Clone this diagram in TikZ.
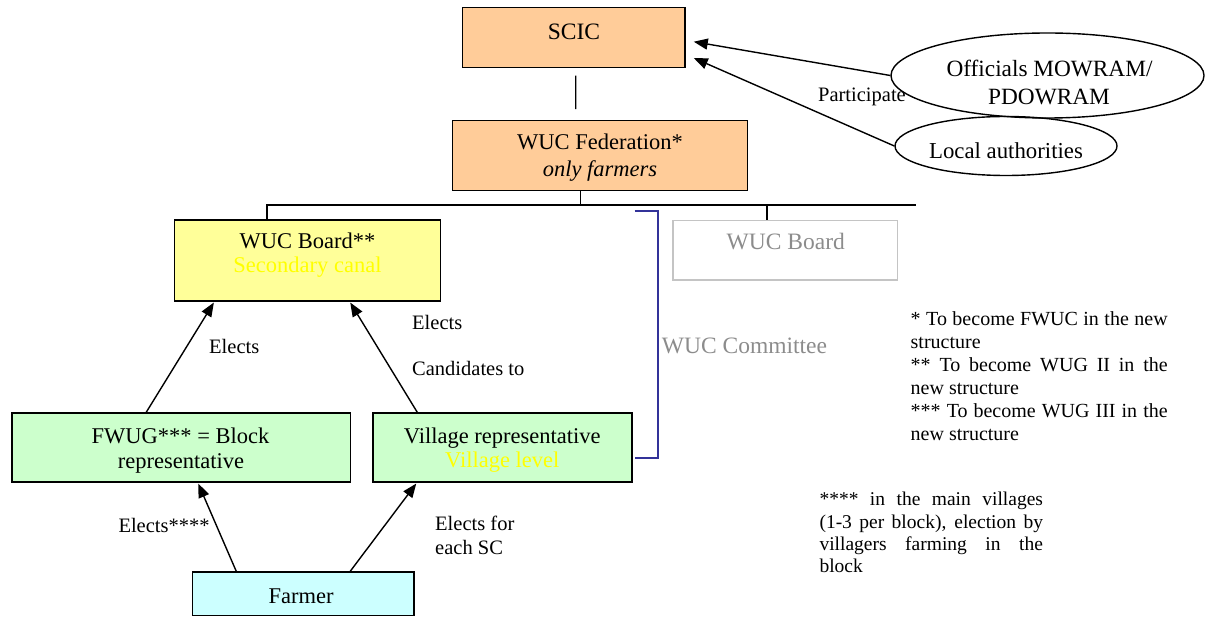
\documentclass[tikz,border=0pt]{standalone}
\usepackage{fontspec}
\setmainfont{Liberation Serif}
\usetikzlibrary{arrows.meta,calc,shapes.geometric}

\definecolor{peach}{HTML}{FFCC99}
\definecolor{paleyellow}{HTML}{FFFF99}
\definecolor{palegreen}{HTML}{CCFFCC}
\definecolor{palecyan}{HTML}{CCFFFF}
\definecolor{canalyellow}{HTML}{FFFF00}
\definecolor{wucgray}{HTML}{8C8C8C}
\definecolor{wucline}{HTML}{C4C4C4}
\definecolor{bracketblue}{HTML}{333399}

\newcommand\mainsz{\fontsize{22.5}{27}\selectfont}
\newcommand\graysz{\fontsize{23.5}{28}\selectfont}
\newcommand\ellsz{\fontsize{23.3}{28}\selectfont}
\newcommand\labsz{\fontsize{20.5}{24}\selectfont}

\begin{document}
\begin{tikzpicture}[x=1pt,y=-1pt,
  box/.style={draw=black, line width=1.5pt, rectangle, inner sep=0pt},
  oval/.style={draw=black, line width=1.4pt, ellipse, inner sep=0pt},
  t/.style={font=\mainsz, inner sep=0pt, anchor=base},
  lab/.style={font=\labsz, inner sep=0pt, anchor=base west},
  conn/.style={draw=black, line width=1.4pt},
  arr/.style={conn, -{Triangle[length=14pt,width=11pt]}},
  note/.style={inner sep=0pt, anchor=base west, align=justify}]
\useasboundingbox (0,0) rectangle (1212,617);

% boxes of the organisation chart
\node[box, fill=peach, minimum width=222.3, minimum height=60.4] (scic) at (573.85,37.5) {};
\node[box, fill=peach, minimum width=295, minimum height=70] (fed) at (600.2,155.7) {};
\node[box, fill=paleyellow, minimum width=265.6, minimum height=81] (board) at (307.5,260.5) {};
\node[draw=wucline, line width=1.5pt, rectangle, inner sep=0pt,
      minimum width=224.5, minimum height=59.3] (gboard) at (785.25,250.35) {};
\node[box, fill=palegreen, minimum width=338.8, minimum height=69] (fwug) at (181.2,447.5) {};
\node[box, fill=palegreen, minimum width=259, minimum height=69] (vil) at (502.5,447.5) {};
\node[box, fill=palecyan, minimum width=221.7, minimum height=43.5] (farmer) at (303.15,593.75) {};

% ellipses for the participating bodies
\node[oval, minimum width=313, minimum height=85] (off) at (1047.5,75.5) {};
\node[oval, minimum width=222, minimum height=59] (loc) at (1006,146) {};

% box texts
\node[t, font=\fontsize{23.5}{28}\selectfont] (scic-t) at (574,39.3) {SCIC};
\node[t] (fed-t1) at (600,149.3) {WUC Federation*};
\node[t, font=\mainsz\itshape] (fed-t2) at (600,177) {only farmers};
\node[t] (board-t1) at (307.5,249) {WUC Board**};
\node[t, text=canalyellow] (board-t2) at (307.5,273) {Secondary canal};
\node[t, font=\graysz, text=wucgray] (gboard-t) at (785.8,250) {WUC Board};
\node[t] (fwug-t1) at (180.5,443) {FWUG*** = Block};
\node[t] (fwug-t2) at (181,468) {representative};
\node[t] (vil-t1) at (502.3,443) {Village representative};
\node[t, text=canalyellow] (vil-t2) at (502.3,467) {Village level};
\node[t] (farmer-t) at (301,603) {Farmer};
\node[t, font=\ellsz] (off-t1) at (1049.5,76.7) {Officials MOWRAM/};
\node[t, font=\ellsz] (off-t2) at (1049,105) {PDOWRAM};
\node[t, font=\fontsize{22.8}{27}\selectfont] (loc-t) at (1006,159) {Local authorities};

% hierarchy lines
\draw[conn] ($(scic.south)+(1.85,7.3)$) -- ($(fed.north)+(-24.5,-10.7)$);
\coordinate (fedfoot) at ($(fed.south)+(-19.5,0)$);
\coordinate (busL) at (267,205);
\coordinate (busR) at (916,205);
\coordinate (busG) at (767,205);
\draw[conn] (fedfoot) -- (fedfoot |- busL);
\draw[conn] ($(busL)+(-0.7,0)$) -- (busR);
\draw[conn] (busL) -- (busL |- board.north);
\draw[conn] (busG) -- (busG |- gboard.north);

% committee bracket
\coordinate (brTop) at (634.5,211);
\coordinate (brBot) at (634.5,458);
\draw[draw=bracketblue, line width=1.3pt] (brTop) -- ++(23.5,0) -- ($(brBot)+(23.5,0)$) -- (brBot);
\node[lab, font=\graysz, text=wucgray] (committee) at (661.7,353) {WUC Committee};

% election arrows
\draw[arr] ($(fwug.north west)+(135.2,0)$) -- ($(board.south west)+(39.9,0.8)$);
\draw[arr] ($(vil.north west)+(45,0)$) -- ($(board.south west)+(176.3,0.8)$);
\draw[arr] ($(farmer.north west)+(44.7,0)$) -- ($(fwug.south west)+(187.2,0.8)$);
\draw[arr] ($(farmer.north west)+(158.7,0)$) -- ($(vil.south west)+(44,0.8)$);
\draw[arr] (off.west) -- ($(scic.east)+(8,4.2)$);
\draw[arr] (loc.west) -- ($(scic.east)+(8,20.5)$);

% arrow labels
\node[lab] (el1) at (209,353) {Elects};
\node[lab] (el2) at (412,330) {Elects};
\node[lab] (el3) at (412,375) {Candidates to};
\node[lab] (el4) at (118.3,532) {Elects****};
\node[lab] (el5) at (435,530) {Elects for};
\node[lab] (el6) at (435,554) {each SC};
\node[lab, anchor=base east] (part) at (906,102) {Participate};

% footnotes
\node[note, text width=257pt, font=\fontsize{20}{22.9}\selectfont] (notes1) at (910.5,326)
  {\parindent=0pt * To become FWUC in the new\linebreak structure\par
   ** To become WUG II in the\linebreak new structure\par
   *** To become WUG III in the\linebreak new structure};
\node[note, text width=223.5pt, font=\fontsize{19.5}{22.3}\selectfont] (notes2) at (819.3,505.7)
  {\parindent=0pt **** in the main villages\linebreak (1-3 per block), election by\linebreak
   villagers farming in the\linebreak block};
\end{tikzpicture}
\end{document}
